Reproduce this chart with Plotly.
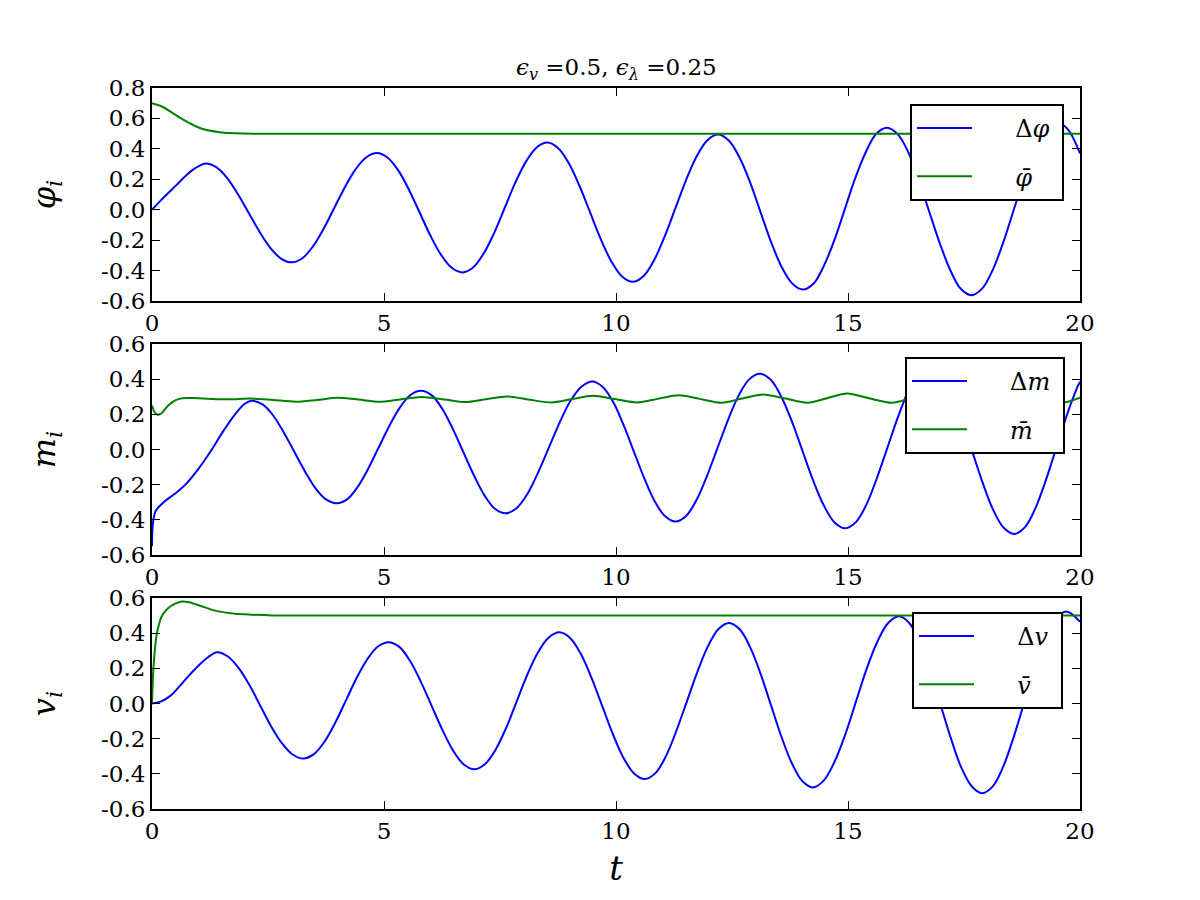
import plotly.graph_objects as go
from plotly.subplots import make_subplots

# ---------------- data ----------------
t_dphi = [0, 0.17, 0.35, 0.52, 0.7, 0.87, 1.0, 1.16,
          1.39, 1.62, 1.85, 2.085, 2.32, 2.55, 2.78, 3.01,
          3.24, 3.47, 3.70, 3.93, 4.16, 4.39, 4.62, 4.85,
          5.08, 5.31, 5.54, 5.77, 6.00, 6.23, 6.46, 6.69,
          6.92, 7.15, 7.38, 7.605, 7.83, 8.06, 8.29, 8.52,
          8.75, 8.98, 9.21, 9.44, 9.67, 9.90, 10.13, 10.36,
          10.59, 10.82, 11.05, 11.28, 11.51, 11.74, 11.97, 12.2,
          12.43, 12.66, 12.89, 13.115, 13.34, 13.57, 13.80, 14.03,
          14.26, 14.48, 14.71, 14.935, 15.16, 15.39, 15.61, 15.84,
          16.07, 16.30, 16.52, 16.75, 16.98, 17.21, 17.43, 17.66,
          17.89, 18.12, 18.35, 18.58, 18.81, 19.04, 19.27, 19.5,
          19.73, 20]
dphi = [0.0, 0.055, 0.11, 0.16, 0.215, 0.26, 0.285, 0.303,
        0.278, 0.208, 0.103, -0.022, -0.146, -0.251, -0.321, -0.346,
        -0.319, -0.241, -0.125, 0.013, 0.150, 0.267, 0.345, 0.372,
        0.342, 0.257, 0.130, -0.02, -0.170, -0.297, -0.382, -0.412,
        -0.380, -0.287, -0.149, 0.0145, 0.178, 0.316, 0.409, 0.441,
        0.406, 0.307, 0.159, -0.0165, -0.192, -0.340, -0.439, -0.474,
        -0.437, -0.332, -0.175, 0.01, 0.195, 0.352, 0.457, 0.494,
        0.455, 0.345, 0.180, -0.0155, -0.211, -0.376, -0.486, -0.525,
        -0.485, -0.369, -0.197, 0.007, 0.211, 0.383, 0.499, 0.539,
        0.497, 0.378, 0.199, -0.0115, -0.222, -0.401, -0.520, -0.562,
        -0.519, -0.395, -0.211, 0.0065, 0.224, 0.408, 0.532, 0.575,
        0.531, 0.37]

t_phibar = [0, 0.2, 0.4, 0.6, 0.8, 1.0, 1.2, 1.5, 1.8, 2.2, 3.0, 20]
phibar = [0.70, 0.68, 0.645, 0.605, 0.57, 0.54, 0.522, 0.508, 0.502, 0.5, 0.5, 0.5]

t_dm = [0, 0.02, 0.08, 0.25, 0.5, 0.72, 1.0, 1.29, 1.55, 1.79, 2.0, 2.16,
        2.39, 2.615, 2.84, 3.07, 3.30, 3.525, 3.75, 3.98,
        4.21, 4.435, 4.66, 4.89, 5.12, 5.345, 5.57, 5.80,
        6.03, 6.255, 6.48, 6.71, 6.94, 7.165, 7.39, 7.62,
        7.85, 8.09, 8.32, 8.555, 8.79, 9.02, 9.26, 9.49,
        9.71, 9.94, 10.16, 10.385, 10.61, 10.83, 11.06, 11.28,
        11.51, 11.735, 11.96, 12.19, 12.42, 12.645, 12.87, 13.10,
        13.33, 13.56, 13.79, 14.02, 14.25, 14.48, 14.71, 14.94,
        15.17, 15.395, 15.62, 15.85, 16.08, 16.305, 16.53, 16.76,
        16.99, 17.215, 17.44, 17.67, 17.90, 18.125, 18.35, 18.58,
        18.81, 19.035, 19.26, 19.49, 19.72, 19.945, 20]
dm = [-0.55, -0.42, -0.35, -0.30, -0.25, -0.20, -0.11, 0.0, 0.11, 0.20, 0.26, 0.277,
      0.255, 0.192, 0.097, -0.0145, -0.126, -0.221, -0.284, -0.306,
      -0.282, -0.212, -0.109, 0.014, 0.137, 0.240, 0.310, 0.334,
      0.308, 0.232, 0.119, -0.0145, -0.148, -0.261, -0.337, -0.363,
      -0.335, -0.253, -0.132, 0.012, 0.156, 0.277, 0.358, 0.387,
      0.357, 0.270, 0.141, -0.0115, -0.164, -0.293, -0.380, -0.41,
      -0.378, -0.287, -0.151, 0.0105, 0.172, 0.308, 0.399, 0.431,
      0.398, 0.302, 0.160, -0.0085, -0.177, -0.319, -0.415, -0.448,
      -0.413, -0.314, -0.165, 0.011, 0.187, 0.336, 0.435, 0.47,
      0.434, 0.331, 0.177, -0.005, -0.187, -0.341, -0.444, -0.48,
      -0.443, -0.336, -0.178, 0.01, 0.198, 0.356, 0.385]

t_mbar = [0, 0.05, 0.12, 0.2, 0.35, 0.5, 0.65, 0.9, 1.3, 1.7, 2.1, 2.6, 3.1, 3.55, 4.0, 4.45,
          4.9, 5.35, 5.8, 6.3, 6.75, 7.2, 7.65, 8.1, 8.6, 9.05, 9.5, 9.98, 10.46, 10.9, 11.35,
          11.8, 12.28, 12.72, 13.17, 13.65, 14.13, 14.55, 14.98, 15.45, 15.95, 16.4, 16.8,
          17.3, 17.78, 18.2, 18.65, 19.1, 19.6, 20]
mbar = [0.25, 0.215, 0.198, 0.205, 0.25, 0.28, 0.292, 0.293, 0.288, 0.286, 0.29, 0.282, 0.272,
        0.282, 0.294, 0.284, 0.271, 0.285, 0.299, 0.285, 0.27, 0.286, 0.302, 0.285, 0.268,
        0.287, 0.306, 0.287, 0.268, 0.288, 0.309, 0.288, 0.266, 0.29, 0.313, 0.29, 0.266,
        0.292, 0.319, 0.292, 0.266, 0.294, 0.322, 0.294, 0.265, 0.295, 0.325, 0.295, 0.265,
        0.295]

t_dv = [0, 0.2, 0.4, 0.6, 0.8, 1.0, 1.2, 1.40,
        1.63, 1.865, 2.10, 2.33, 2.56, 2.795, 3.03, 3.26,
        3.49, 3.72, 3.95, 4.18, 4.41, 4.64, 4.87, 5.10,
        5.33, 5.56, 5.79, 6.025, 6.26, 6.49, 6.72, 6.95,
        7.18, 7.41, 7.64, 7.865, 8.09, 8.32, 8.55, 8.78,
        9.01, 9.24, 9.47, 9.70, 9.93, 10.16, 10.39, 10.62,
        10.85, 11.075, 11.30, 11.53, 11.76, 11.985, 12.21, 12.44,
        12.665, 12.89, 13.115, 13.34, 13.565, 13.79, 14.015, 14.24,
        14.47, 14.705, 14.94, 15.17, 15.40, 15.635, 15.87, 16.10,
        16.32, 16.55, 16.77, 16.995, 17.22, 17.44, 17.67, 17.89,
        18.12, 18.345, 18.57, 18.80, 19.03, 19.255, 19.48, 19.71, 20]
dv = [0.0, 0.012, 0.045, 0.10, 0.16, 0.215, 0.262, 0.292,
      0.269, 0.203, 0.105, -0.0105, -0.126, -0.224, -0.290, -0.313,
      -0.288, -0.216, -0.109, 0.018, 0.145, 0.252, 0.324, 0.349,
      0.322, 0.243, 0.126, -0.0125, -0.151, -0.268, -0.347, -0.374,
      -0.344, -0.260, -0.134, 0.0155, 0.165, 0.291, 0.375, 0.405,
      0.373, 0.283, 0.147, -0.0125, -0.172, -0.308, -0.398, -0.43,
      -0.396, -0.300, -0.156, 0.014, 0.184, 0.328, 0.424, 0.458,
      0.422, 0.321, 0.170, -0.0095, -0.189, -0.340, -0.441, -0.477,
      -0.440, -0.334, -0.177, 0.0095, 0.196, 0.353, 0.459, 0.496,
      0.458, 0.349, 0.186, -0.007, -0.200, -0.363, -0.472, -0.51,
      -0.471, -0.359, -0.191, 0.007, 0.205, 0.373, 0.485, 0.524, 0.465]

t_vbar = [0, 0.02, 0.05, 0.1, 0.15, 0.21, 0.3, 0.4, 0.5, 0.64, 0.8, 1.07, 1.25, 1.43, 1.79,
          2.15, 2.6, 3.2, 20]
vbar = [0.0, 0.15, 0.27, 0.39, 0.45, 0.496, 0.53, 0.553, 0.568, 0.58, 0.576, 0.553, 0.537,
        0.524, 0.51, 0.505, 0.501, 0.5, 0.5]

x_ticks = [0, 5, 10, 15, 20]
x_ticktext = ["0", "5", "10", "15", "20"]
y_ticks_top = [-0.6, -0.4, -0.2, 0.0, 0.2, 0.4, 0.6, 0.8]
y_ticktext_top = ["-0.6", "-0.4", "-0.2", "0.0", "0.2", "0.4", "0.6", "0.8"]
y_ticks_lo = [-0.6, -0.4, -0.2, 0.0, 0.2, 0.4, 0.6]
y_ticktext_lo = ["-0.6", "-0.4", "-0.2", "0.0", "0.2", "0.4", "0.6"]

BLUE = "#0000ff"
GREEN = "#008000"
SERIF = "DejaVu Serif"
TICKFONT = dict(family=SERIF, size=23, color="black")
NB = "\u00a0"

fig = make_subplots(rows=3, cols=1)

panels = [
    (t_dphi, dphi, t_phibar, phibar, "Δ<i>φ</i>", "<i>φ̄</i>", "legend"),
    (t_dm, dm, t_mbar, mbar, "Δ<i>m</i>", "<i>m̄</i>", "legend2"),
    (t_dv, dv, t_vbar, vbar, "Δ<i>v</i>", "<i>v̄</i>", "legend3"),
]
for i, (tx, y1, tb, y2, n1, n2, lg) in enumerate(panels, start=1):
    fig.add_trace(go.Scatter(x=tx, y=y1, mode="lines", name=NB * 5 + n1 + NB, legend=lg,
                             legendgroup=f"a{i}",
                             line=dict(color=BLUE, width=2, shape="spline", smoothing=1.0)),
                  row=i, col=1)
    fig.add_trace(go.Scatter(x=tb, y=y2, mode="lines", name=NB * 5 + n2 + NB, legend=lg,
                             legendgroup=f"b{i}",
                             line=dict(color=GREEN, width=2, shape="spline", smoothing=0.8)),
                  row=i, col=1)

# domains matching the reference axes boxes
domains = [[0.7046, 1.0], [0.3523, 0.6449], [0.0, 0.2926]]
ylabels = ["<i>φ<sub>i</sub></i>", "<i>m<sub>i</sub></i>", "<i>v<sub>i</sub></i>"]
for i in range(3):
    ax = "" if i == 0 else str(i + 1)
    fig.layout["xaxis" + ax].update(
        domain=[0, 1], range=[0, 20], tickvals=x_ticks, ticktext=x_ticktext,
        ticks="inside", ticklen=8, tickwidth=1.2, tickcolor="black",
        showline=True, linecolor="black", linewidth=2, mirror="ticks",
        showgrid=False, zeroline=False, tickfont=TICKFONT)
    if i == 0:
        yr, tv, tt = [-0.6, 0.8], y_ticks_top, y_ticktext_top
    else:
        yr, tv, tt = [-0.6, 0.6], y_ticks_lo, y_ticktext_lo
    fig.layout["yaxis" + ax].update(
        domain=domains[i], range=yr, tickvals=tv, ticktext=tt,
        ticks="inside", ticklen=8, tickwidth=1.2, tickcolor="black",
        showline=True, linecolor="black", linewidth=2, mirror="ticks",
        showgrid=False, zeroline=False, tickfont=TICKFONT,
        title=dict(text=ylabels[i], font=dict(family=SERIF, size=32, color="black"),
                   standoff=36))

fig.layout["xaxis3"].title = dict(text="<i>t</i>",
                                  font=dict(family=SERIF, size=34, color="black"),
                                  standoff=14)

legend_common = dict(bgcolor="white", bordercolor="black", borderwidth=2,
                     font=dict(family=SERIF, size=24, color="black"),
                     xanchor="right", yanchor="top", itemwidth=55,
                     tracegroupgap=14)
fig.update_layout(
    legend=dict(x=0.9828, y=0.9778, **legend_common),
    legend2=dict(x=0.9838, y=0.6269, **legend_common),
    legend3=dict(x=0.9817, y=0.2732, **legend_common),
)

fig.add_annotation(text="<i>ϵ<sub>v</sub></i> =0.5, <i>ϵ<sub>λ</sub></i> =0.25",
                   xref="paper", yref="paper", x=0.5, y=1.0, yanchor="bottom",
                   yshift=2, showarrow=False,
                   font=dict(family=SERIF, size=23, color="black"))

fig.update_layout(
    width=1200, height=900,
    margin=dict(l=152, r=120, t=88, b=91),
    paper_bgcolor="white", plot_bgcolor="white",
    showlegend=True,
)

fig.write_html("out.html")
